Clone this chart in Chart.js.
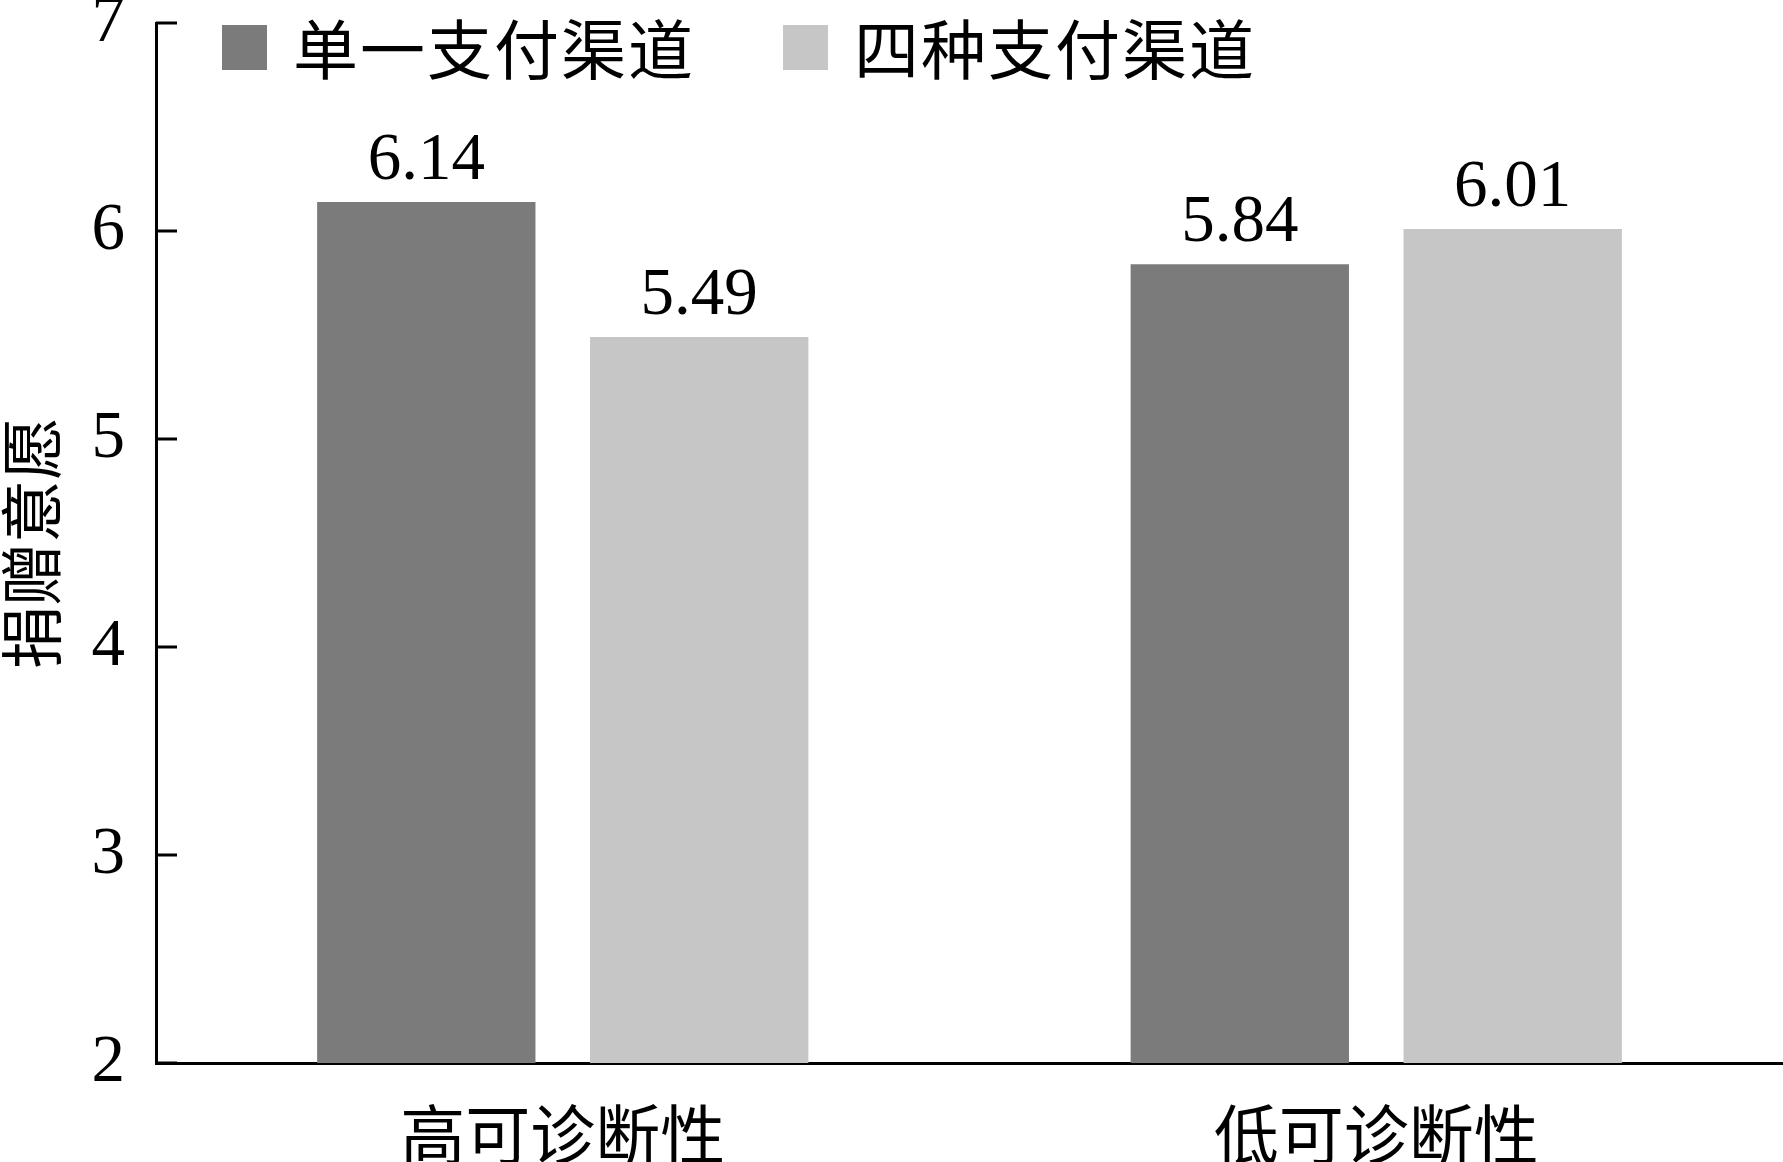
<!DOCTYPE html>
<html><head><meta charset="utf-8">
<script src="https://cdn.jsdelivr.net/npm/chart.js@4/dist/chart.umd.min.js"></script>
<style>html,body{margin:0;padding:0;background:#fff;overflow:hidden;}</style>
</head><body>
<canvas id="c" width="1783" height="1162"></canvas>
<script>
const categories = ['高可诊断性', '低可诊断性'];
const seriesNames = ['单一支付渠道', '四种支付渠道'];
const singleChannel = [6.14, 5.84];
const fourChannels = [5.49, 6.01];
const yMin = 2, yMax = 7, yStep = 1;
const yTitle = '捐赠意愿';

const CJK = "'Noto Sans CJK SC', 'Noto Sans CJK JP', sans-serif";
const SERIF = "'Liberation Serif', 'DejaVu Serif', serif";
const DARK = '#7b7b7b', LIGHT = '#c6c6c6';

const inwardTicks = {
  id: 'inwardTicks',
  afterDraw(chart) {
    const ctx = chart.ctx, y = chart.scales.y, left = chart.chartArea.left;
    ctx.save();
    ctx.strokeStyle = '#000'; ctx.lineWidth = 3;
    y.ticks.forEach(t => {
      const py = Math.round(y.getPixelForValue(t.value));
      ctx.beginPath(); ctx.moveTo(left, py); ctx.lineTo(left + 21, py); ctx.stroke();
    });
    ctx.restore();
  }
};

const valueLabels = {
  id: 'valueLabels',
  afterDatasetsDraw(chart) {
    const ctx = chart.ctx;
    ctx.save();
    ctx.font = '67px ' + SERIF;
    ctx.fillStyle = '#000';
    ctx.textAlign = 'center';
    ctx.textBaseline = 'alphabetic';
    chart.data.datasets.forEach((ds, di) => {
      chart.getDatasetMeta(di).data.forEach((bar, i) => {
        ctx.fillText(ds.data[i].toFixed(2), bar.x, bar.y - 23);
      });
    });
    ctx.restore();
  }
};

const customLegend = {
  id: 'customLegend',
  afterDraw(chart) {
    const ctx = chart.ctx;
    ctx.save();
    ctx.font = '65px ' + CJK;
    try { ctx.letterSpacing = '2px'; } catch (e) {}
    ctx.textBaseline = 'middle';
    ctx.textAlign = 'left';
    let x = 222;
    const boxY = 25, box = 45, cy = 47;
    chart.data.datasets.forEach((ds, di) => {
      ctx.fillStyle = ds.backgroundColor;
      ctx.fillRect(x, boxY, box, box);
      ctx.fillStyle = '#000';
      ctx.fillText(ds.label, x + 71, cy + 2);
      x += 71 + ctx.measureText(ds.label).width + 88;
    });
    ctx.restore();
  }
};

new Chart(document.getElementById('c'), {
  type: 'bar',
  data: {
    labels: categories,
    datasets: [
      { label: seriesNames[0], data: singleChannel, backgroundColor: DARK },
      { label: seriesNames[1], data: fourChannels, backgroundColor: LIGHT }
    ]
  },
  options: {
    responsive: false,
    animation: false,
    devicePixelRatio: 1,
    layout: { padding: { top: 23, right: -4, left: 0, bottom: 0 } },
    datasets: { bar: { categoryPercentage: 0.671, barPercentage: 0.8 } },
    plugins: { legend: { display: false }, tooltip: { enabled: false } },
    scales: {
      x: {
        grid: { display: false },
        border: { display: true, color: '#000', width: 3 },
        ticks: { font: { family: CJK, size: 65 }, color: '#000', padding: 24 },
        afterFit(s) { s.height = 99; s.paddingLeft = 0; s.paddingRight = 0; }
      },
      y: {
        min: yMin, max: yMax,
        grid: { display: false },
        border: { display: true, color: '#000', width: 3 },
        ticks: { stepSize: yStep, font: { family: SERIF, size: 67 }, color: '#000', padding: 23 },
        title: { display: true, text: yTitle, font: { family: CJK, size: 63, lineHeight: 1 }, color: '#000', padding: 0 },
        afterFit(s) { s.width = 156; s.paddingTop = 0; s.paddingBottom = 0; }
      }
    }
  },
  plugins: [inwardTicks, valueLabels, customLegend]
});
</script>
</body></html>
